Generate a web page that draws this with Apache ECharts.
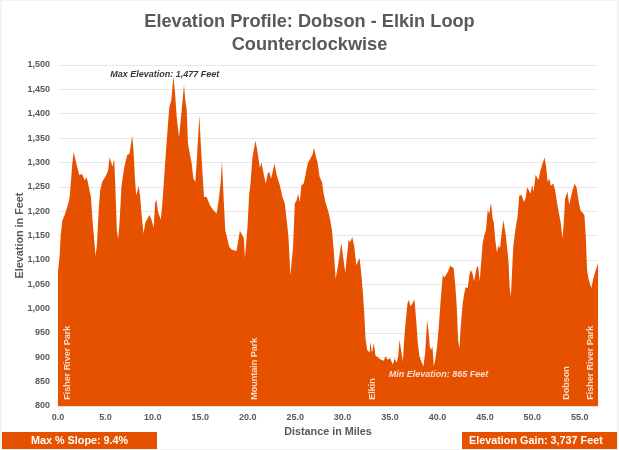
<!DOCTYPE html>
<html>
<head>
<meta charset="utf-8">
<title>Elevation Profile</title>
<script src="https://cdn.jsdelivr.net/npm/echarts@6/dist/echarts.min.js"></script>
<style>
    html, body { margin: 0; padding: 0; background: #f3f3f3; }
    #chart { position: absolute; left: 2px; top: 1px; width: 615px; height: 448px; background: #fff; }
</style>
</head>
<body>
<div id="chart"></div>
<script>
    var miles = [0,0.18,0.28,0.46,0.6,0.74,0.91,1.09,1.23,1.37,1.51,1.65,1.86,2.07,2.24,2.38,2.52,2.7,2.84,2.98,3.12,3.33,3.47,3.61,3.82,3.96,4.1,4.31,4.45,4.66,4.87,5.08,5.29,5.43,5.61,5.75,5.92,6.06,6.2,6.34,6.48,6.69,6.83,7.01,7.15,7.29,7.54,7.68,7.82,7.96,8.1,8.24,8.38,8.52,8.66,8.8,9.01,9.22,9.43,9.64,9.85,10.09,10.23,10.37,10.55,10.69,10.83,10.97,11.15,11.36,11.57,11.74,11.95,12.16,12.34,12.51,12.76,12.9,13.07,13.28,13.42,13.56,13.7,13.92,14.09,14.27,14.48,14.69,14.9,15.07,15.39,15.67,16.02,16.37,16.72,16.93,17.14,17.28,17.42,17.63,17.84,18.05,18.33,18.82,19.17,19.38,19.59,19.7,19.98,20.15,20.29,20.5,20.82,21,21.28,21.45,21.7,21.91,22.08,22.26,22.47,22.61,22.82,23.03,23.2,23.38,23.66,23.9,24.15,24.29,24.5,24.78,24.96,25.13,25.31,25.48,25.66,25.9,26.11,26.32,26.6,26.81,26.99,27.23,27.34,27.44,27.58,27.83,28,28.22,28.46,28.7,28.88,29.06,29.27,29.61,29.86,30.28,30.63,30.8,31.02,31.23,31.44,31.79,32,32.14,32.28,32.42,32.59,32.84,32.94,33.08,33.29,33.47,33.71,33.96,34.13,34.34,34.52,34.76,35.01,35.29,35.5,35.67,35.85,36,36.18,36.35,36.49,36.63,36.84,36.98,37.16,37.33,37.58,37.75,37.93,38.1,38.31,38.52,38.7,38.91,39.05,39.19,39.33,39.47,39.61,39.79,39.96,40.14,40.31,40.56,40.73,40.91,41.12,41.33,41.54,41.71,41.89,42.03,42.17,42.31,42.45,42.66,42.83,42.97,43.19,43.36,43.5,43.68,43.85,44.03,44.17,44.31,44.45,44.59,44.76,44.94,45.11,45.29,45.46,45.64,45.81,45.95,46.09,46.27,46.44,46.59,46.76,46.94,47.08,47.22,47.36,47.5,47.6,47.74,47.85,47.99,48.2,48.44,48.62,48.86,49.11,49.28,49.46,49.63,49.81,49.98,50.13,50.34,50.51,50.65,50.86,51.07,51.28,51.46,51.6,51.77,51.95,52.19,52.4,52.61,52.82,53,53.17,53.31,53.45,53.7,53.88,54.05,54.23,54.47,54.68,54.89,55.07,55.28,55.49,55.63,55.77,55.91,56.05,56.22,56.4,56.54,56.68,56.92];
    var elevations = [1075,1110,1150,1181,1185,1194,1190,1216,1229,1263,1298,1322,1304,1287,1274,1270,1276,1277,1263,1270,1262,1262,1229,1188,1140,1108,1130,1209,1243,1260,1263,1274,1284,1310,1308,1291,1308,1243,1161,1143,1175,1250,1270,1292,1294,1315,1318,1322,1354,1325,1270,1232,1236,1251,1229,1195,1154,1177,1178,1192,1183,1166,1216,1224,1198,1195,1183,1209,1257,1318,1373,1414,1428,1477,1442,1394,1351,1352,1414,1459,1427,1410,1339,1315,1298,1267,1260,1325,1397,1330,1229,1229,1212,1202,1195,1222,1257,1303,1243,1161,1159,1127,1121,1118,1160,1162,1145,1104,1170,1235,1257,1311,1345,1325,1289,1300,1274,1257,1276,1281,1267,1267,1298,1276,1272,1253,1229,1216,1174,1147,1069,1127,1216,1221,1235,1219,1253,1257,1277,1298,1308,1315,1330,1308,1302,1306,1270,1260,1236,1216,1202,1181,1161,1120,1060,1100,1135,1073,1142,1136,1147,1127,1089,1104,1066,1032,990,937,915,910,932,909,929,903,900,896,900,893,902,895,898,885,898,889,900,936,934,891,936,970,1011,1018,1004,1008,1018,977,929,902,891,881,909,976,956,922,915,922,881,898,922,963,1011,1069,1064,1066,1076,1088,1090,1083,1045,1004,936,917,963,1011,1032,1044,1042,1069,1079,1073,1056,1059,1088,1083,1056,1056,1134,1151,1161,1202,1195,1217,1185,1175,1141,1115,1130,1124,1154,1182,1178,1148,1148,1093,1045,1024,1072,1127,1161,1189,1232,1233,1219,1226,1249,1247,1236,1254,1240,1274,1271,1264,1284,1298,1310,1291,1260,1267,1252,1257,1243,1216,1219,1175,1144,1175,1226,1240,1213,1211,1243,1257,1247,1219,1202,1202,1192,1148,1079,1062,1052,1042,1059,1062,1079,1093];

    var placeNames = ['Fisher River Park', 'Mountain Park', 'Elkin', 'Dobson', 'Fisher River Park'];
    var placeMiles = [1.0, 20.75, 33.2, 53.6, 56.15];
    var placeLabelElevation = 813;

    var titleText = 'Elevation Profile: Dobson - Elkin Loop\nCounterclockwise';
    var maxNote = 'Max Elevation: 1,477 Feet';
    var minNote = 'Min Elevation: 865 Feet';
    var slopeNote = 'Max % Slope: 9.4%';
    var gainNote = 'Elevation Gain: 3,737 Feet';

    var orange = '#e65100';
    var chart = echarts.init(document.getElementById('chart'));

    var points = miles.map(function (m, i) { return [m, elevations[i]]; });
    var places = placeMiles.map(function (m, i) { return { value: [m, placeLabelElevation], name: placeNames[i] }; });

    chart.setOption({
        animation: false,
        textStyle: { fontFamily: '"Liberation Sans", Arial, sans-serif' },
        title: {
            text: titleText,
            left: 'center',
            top: 4,
            textStyle: { fontSize: 18.2, fontWeight: 'bold', color: '#595959', lineHeight: 23, fontFamily: '"Liberation Sans"' }
        },
        grid: { left: 56, right: 19, top: 64, bottom: 43, outerBoundsMode: 'none' },
        xAxis: {
            type: 'value',
            min: 0,
            max: 56.92,
            interval: 5,
            name: 'Distance in Miles',
            nameLocation: 'middle',
            nameGap: 21,
            nameMoveOverlap: false,
            nameTextStyle: { fontSize: 10.8, fontWeight: 'bold', color: '#595959' },
            axisLine: { show: true, lineStyle: { color: '#e0e0e0' } },
            axisTick: { show: false },
            splitLine: { show: false },
            axisLabel: { fontSize: 9, fontWeight: 'bold', color: '#595959', margin: 7, showMaxLabel: false,
                formatter: function (v) { return v.toFixed(1); } }
        },
        yAxis: {
            type: 'value',
            min: 800,
            max: 1500,
            interval: 50,
            name: 'Elevation in Feet',
            nameLocation: 'middle',
            nameGap: 32,
            nameMoveOverlap: false,
            nameTextStyle: { fontSize: 10.8, fontWeight: 'bold', color: '#595959' },
            axisLine: { show: false },
            axisTick: { show: false },
            splitLine: { lineStyle: { color: '#e8e8e8', width: 1 } },
            axisLabel: { fontSize: 9, fontWeight: 'bold', color: '#595959', margin: 8,
                formatter: function (v) { return v.toLocaleString('en-US'); } }
        },
        series: [
            {
                type: 'line',
                data: points,
                showSymbol: false,
                lineStyle: { width: 0 },
                itemStyle: { color: orange },
                areaStyle: { color: orange, opacity: 1, origin: 'start' }
            },
            {
                type: 'scatter',
                data: places,
                symbolSize: 0,
                silent: true,
                z: 5,
                label: {
                    show: true,
                    formatter: '{b}',
                    rotate: 90,
                    position: 'inside',
                    align: 'left',
                    verticalAlign: 'middle',
                    color: '#fff',
                    fontSize: 9,
                    fontWeight: 'bold'
                }
            },
            {
                type: 'scatter',
                data: [
                    { value: [17.0, 1481], name: maxNote, label: { color: '#000' } },
                    { value: [45.35, 864], name: minNote, label: { color: '#fff' } }
                ],
                symbolSize: 0,
                silent: true,
                z: 5,
                label: {
                    show: true,
                    formatter: '{b}',
                    position: 'inside',
                    align: 'right',
                    verticalAlign: 'middle',
                    fontSize: 9,
                    fontStyle: 'italic',
                    fontWeight: 'bold'
                }
            }
        ],
        graphic: [
            { type: 'rect', left: 0, top: 431, shape: { width: 155, height: 17 }, style: { fill: orange } },
            { type: 'text', left: 29, top: 435, style: { text: slopeNote, fill: '#fff', font: 'bold 10.8px "Liberation Sans"' } },
            { type: 'rect', left: 460, top: 431, shape: { width: 155, height: 17 }, style: { fill: orange } },
            { type: 'text', left: 467, top: 435, style: { text: gainNote, fill: '#fff', font: 'bold 10.8px "Liberation Sans"' } }
        ]
    });
    window.addEventListener('resize', function () { chart.resize(); });
</script>
</body>
</html>
